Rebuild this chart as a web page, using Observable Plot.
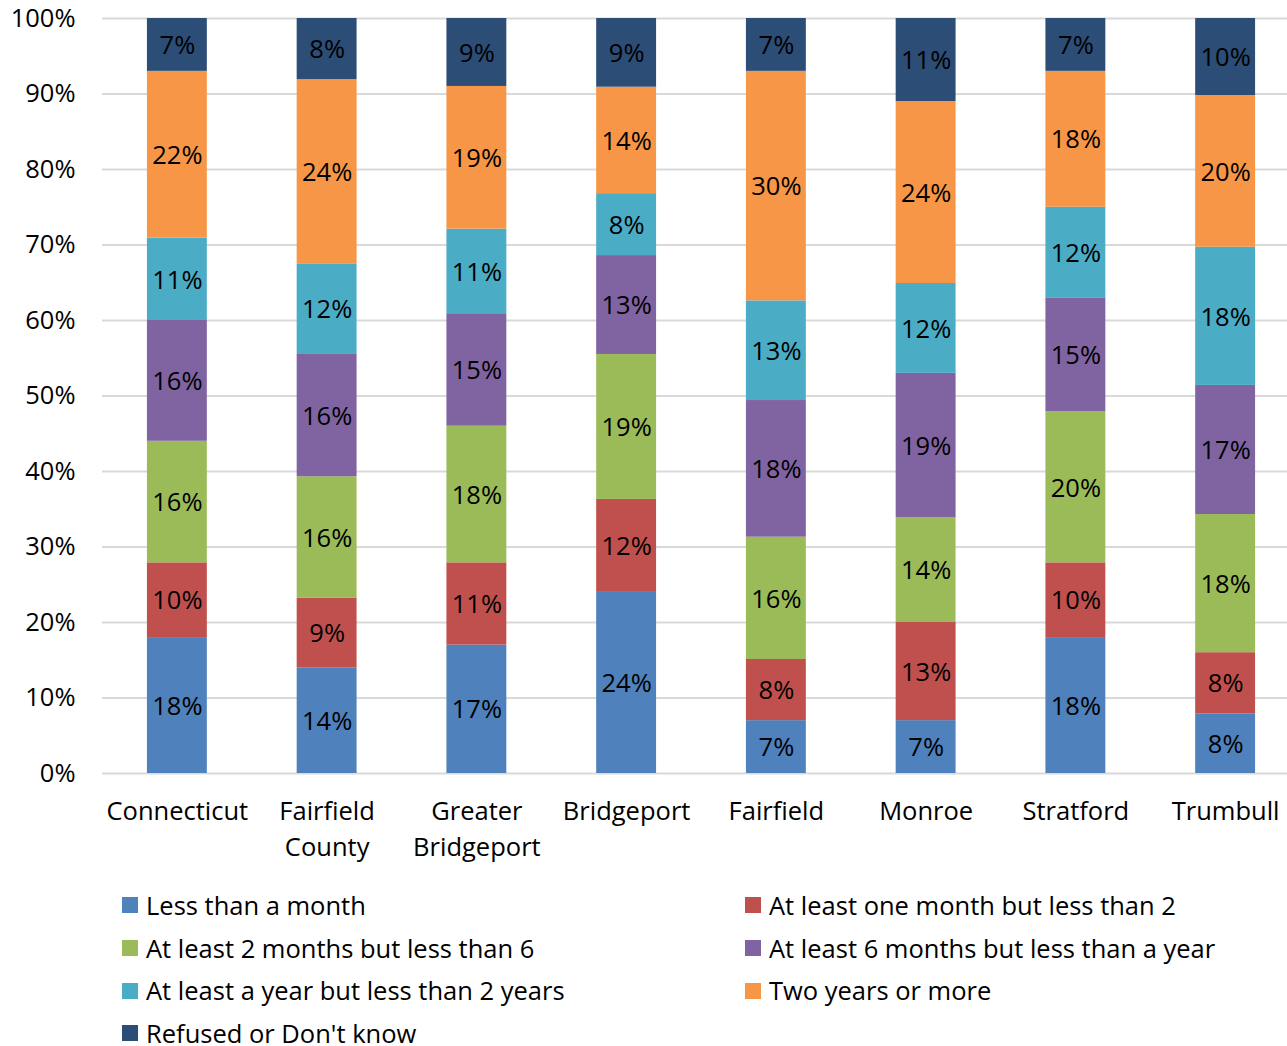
<!DOCTYPE html>
<html>
<head>
<meta charset="utf-8">
<script src="https://cdn.jsdelivr.net/npm/d3@7"></script>
<script src="https://cdn.jsdelivr.net/npm/@observablehq/plot@0.6"></script>
<style>
  body { margin: 0; background: #fff; font-family: "Open Sans", sans-serif; }
  #legend { display: grid; grid-template-columns: 623px 1fr; grid-auto-rows: 42.7px; padding-left: 122px; margin-top: 14px; font-size: 25.5px; line-height: 1.2; color: #000; }
  .item { display: flex; align-items: center; white-space: nowrap; }
  .sw { width: 16px; height: 16px; margin-right: 8px; flex: none; }
</style>
</head>
<body>
<div id="chart"></div>
<div id="legend"></div>
<script>
const categories = ["Connecticut", "Fairfield County", "Greater Bridgeport", "Bridgeport", "Fairfield", "Monroe", "Stratford", "Trumbull"];
const tickLabels = ["Connecticut", "Fairfield\nCounty", "Greater\nBridgeport", "Bridgeport", "Fairfield", "Monroe", "Stratford", "Trumbull"];
const seriesNames = ["Less than a month", "At least one month but less than 2", "At least 2 months but less than 6", "At least 6 months but less than a year", "At least a year but less than 2 years", "Two years or more", "Refused or Don't know"];
const colors = ["#4F81BD", "#C0504D", "#9BBB59", "#8064A2", "#4BACC6", "#F79646", "#2C4D75"];

const lessThanMonth   = [18.0, 14.0, 17.0, 24.1, 7.0, 7.0, 18.0, 7.9];
const oneToTwoMonths  = [9.9, 9.2, 10.9, 12.2, 8.1, 13.0, 9.9, 8.1];
const twoToSixMonths  = [16.1, 16.1, 18.1, 19.2, 16.2, 13.9, 20.0, 18.3];
const sixToTwelve     = [16.0, 16.2, 14.9, 13.1, 18.1, 19.1, 15.1, 17.1];
const oneToTwoYears   = [10.9, 12.0, 11.2, 8.2, 13.2, 11.9, 12.0, 18.3];
const twoYearsOrMore  = [22.1, 24.4, 18.9, 14.1, 30.4, 24.1, 18.0, 20.1];
const refusedDontKnow = [7.0, 8.1, 9.0, 9.1, 7.0, 11.0, 7.0, 10.2];

const seriesValues = [lessThanMonth, oneToTwoMonths, twoToSixMonths, sixToTwelve, oneToTwoYears, twoYearsOrMore, refusedDontKnow];

const rows = [];
seriesNames.forEach((s, si) => {
  categories.forEach((c, ci) => {
    rows.push({place: c, series: s, value: seriesValues[si][ci]});
  });
});

const FS = 25.5;
const chart = Plot.plot({
  width: 1287,
  height: 870,
  marginLeft: 102,
  marginRight: 0,
  marginTop: 18,
  marginBottom: 97,
  style: {fontFamily: "Open Sans, sans-serif", fontSize: FS + "px", color: "#000", background: "#fff"},
  x: {domain: categories, range: [102, 1300], paddingInner: 0.6, paddingOuter: 0.3, round: false},
  y: {domain: [0, 100]},
  color: {domain: seriesNames, range: colors},
  marks: [
    Plot.gridY({ticks: d3.range(0, 101, 10), stroke: "#D9D9D9", strokeOpacity: 1, strokeWidth: 2}),
    Plot.barY(rows, {x: "place", y: "value", fill: "series"}),
    Plot.text(rows, Plot.stackY({x: "place", y: "value", z: "series", text: d => Math.round(d.value) + "%", fill: "#000", fontSize: FS, dy: 1})),
    Plot.axisY({ticks: d3.range(0, 101, 10), tickFormat: d => d + "%", tickSize: 0, tickPadding: 27, fontSize: FS, label: null}),
    Plot.axisX({tickSize: 0, tickPadding: 21, tickFormat: d => tickLabels[categories.indexOf(d)], lineHeight: 1.42, fontSize: FS, label: null})
  ]
});
document.getElementById("chart").appendChild(chart);

const legend = document.getElementById("legend");
seriesNames.forEach((name, i) => {
  const item = document.createElement("div");
  item.className = "item";
  const sw = document.createElement("span");
  sw.className = "sw";
  sw.style.background = colors[i];
  const t = document.createElement("span");
  t.textContent = name;
  item.appendChild(sw);
  item.appendChild(t);
  legend.appendChild(item);
});
</script>
</body>
</html>
